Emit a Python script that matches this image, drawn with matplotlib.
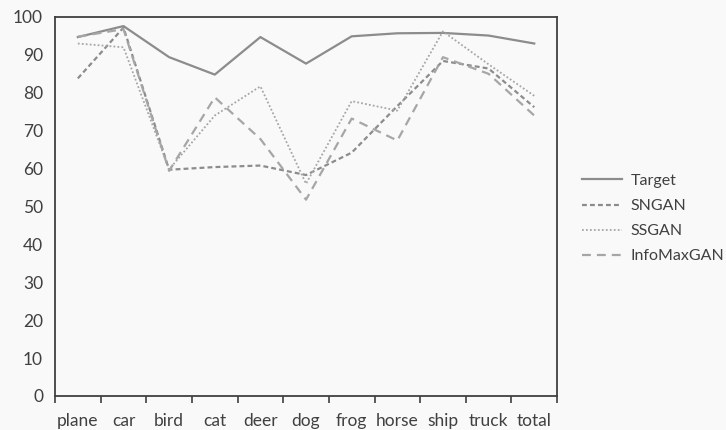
import matplotlib
matplotlib.use("Agg")
import matplotlib.pyplot as plt
import numpy as np

categories = ["plane", "car", "bird", "cat", "deer", "dog", "frog", "horse", "ship", "truck", "total"]
target = [94.7, 97.6, 89.4, 84.8, 94.7, 87.7, 94.9, 95.7, 95.8, 95.1, 93.0]
sngan = [83.8, 97.2, 59.7, 60.4, 60.8, 58.3, 64.2, 76.5, 88.4, 86.4, 76.2]
ssgan = [93.0, 92.0, 59.8, 74.0, 81.7, 56.0, 77.8, 75.3, 96.2, 87.5, 79.2]
infomax = [94.8, 96.8, 59.4, 78.8, 67.8, 51.8, 73.2, 67.4, 89.4, 85.0, 74.0]
series_names = ["Target", "SNGAN", "SSGAN", "InfoMaxGAN"]
yticks = [0, 10, 20, 30, 40, 50, 60, 70, 80, 90, 100]

plt.rcParams['font.family'] = ['Lato', 'DejaVu Sans']
bg = "#f9f9f9"
fig = plt.figure(figsize=(7.26, 4.30), dpi=100, facecolor=bg)
ax = fig.add_axes([0.0758, 0.0791, 0.6915, 0.8814], facecolor=bg)

x = np.arange(len(categories))
ax.plot(x, target, color="#8c8c8c", lw=1.6, ls="-", label=series_names[0])
ax.plot(x, sngan, color="#8c8c8c", lw=1.6, ls=(0, (2.2, 1.4)), label=series_names[1])
ax.plot(x, ssgan, color="#a6a6a6", lw=1.3, ls=(0, (1, 1.2)), label=series_names[2])
ax.plot(x, infomax, color="#a6a6a6", lw=1.6, ls=(0, (4, 2.7)), label=series_names[3])

ax.set_xlim(-0.5, len(categories) - 0.5)
ax.set_ylim(0, 100)
ax.set_yticks(yticks)
ax.set_xticks(x)
ax.set_xticklabels(categories)
ax.set_xticks(np.arange(-0.5, len(categories), 1.0), minor=True)
ax.tick_params(axis='x', which='major', length=0, pad=12, labelsize=12.5, labelcolor="#404040")
ax.tick_params(axis='x', which='minor', length=5, width=1.2, color="#404040", direction='out')
ax.tick_params(axis='y', length=0, pad=8.6, labelsize=12.5, labelcolor="#404040")
for s in ax.spines.values():
    s.set_color("#404040")
    s.set_linewidth(1.3)

leg = fig.legend(loc="upper left", bbox_to_anchor=(0.782, 0.629), frameon=False,
                 fontsize=11.5, labelcolor="#404040", handlelength=2.5, handletextpad=0.55,
                 labelspacing=0.68)

fig.savefig("out.png", dpi=100, facecolor=bg)
